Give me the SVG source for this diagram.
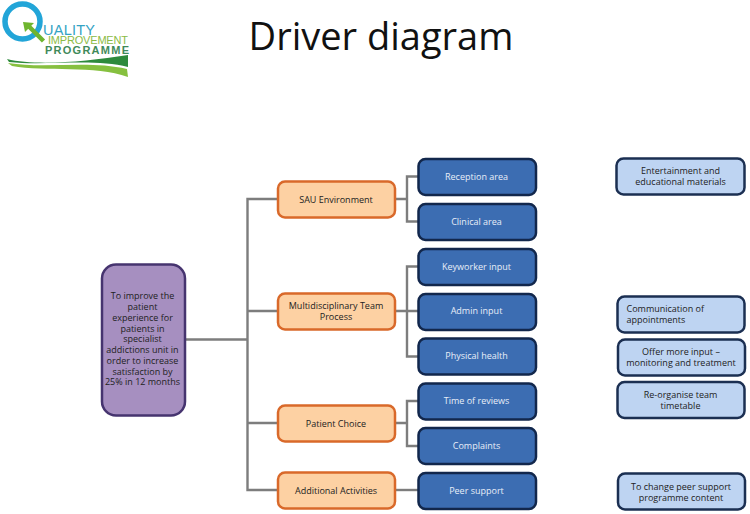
<svg xmlns="http://www.w3.org/2000/svg" width="750" height="514" viewBox="0 0 750 514">
<style>
text{font-family:"Open Sans","Liberation Sans",sans-serif;font-size:9px;text-anchor:middle;fill:#222}
.n{stroke-width:2.5}
.o{fill:#fdd1a3;stroke:#d9692a}
.b{fill:#3c6db2;stroke:#12274c}
.l{fill:#bed4f2;stroke:#1b2f52}
.p{fill:#a68fc0;stroke:#46346f}
.b+text,.w{fill:#e8eef8}
.c{fill:none;stroke:#7d7d7d;stroke-width:2.4}
.lg{font-family:"Liberation Sans",sans-serif;text-anchor:start}
</style>
<rect width="750" height="514" fill="#fff"/>
<g id="logo">
<circle cx="22.500" cy="21.500" r="17.500" fill="none" stroke="#22a5d8" stroke-width="5.500"/>
<path d="M43.500 41 L28 25.500" stroke="#6fb52f" stroke-width="4.500" fill="none"/>
<path d="M23 22 L34 23 L25 32 Z" fill="#6fb52f"/>
<text class="lg" x="43" y="35" style="font-size:14.500px;fill:#34a3c4" textLength="52">UALITY</text>
<text class="lg" x="48" y="43" style="font-size:11px;fill:#8cbb45" textLength="80" dy="1">IMPROVEMENT</text>
<text class="lg" x="45" y="53" style="font-size:11px;fill:#3f8a5a;font-weight:bold" textLength="84" dy="1">PROGRAMME</text>
<path d="M7 59 C35 66 85 62 128 55 L128 67 C95 58 45 66 9 62 Z" fill="#2d8a3c"/>
<path d="M8 63 C45 69 90 60 127 69 L128 77 C95 65 45 72 12 66 Z" fill="#86c03f"/>
</g>
<text id="title" x="381" y="50" style="font-size:38px;fill:#111;font-family:'Open Sans','Liberation Sans',sans-serif">Driver diagram</text>
<g id="connectors">
<path class="c" d="M178 339.500H247.500M277 199H247.500V490H277M247.500 311H277M247.500 423H277"/>
<path class="c" d="M395 199H407M418 176.500H407V221.500H418"/>
<path class="c" d="M395 311H418M418 266.500H407V356.500H418"/>
<path class="c" d="M395 423H407M418 401H407V446H418"/>
<path class="c" d="M395 490H418"/>
</g>
<g id="goal"><rect class="n p" x="102" y="264.500" width="83" height="151" rx="14"/>
<text x="142.500" y="299">To improve the</text><text x="142.500" y="310">patient</text><text x="142.500" y="320.500">experience for</text><text x="142.500" y="331.500">patients in</text><text x="142.500" y="342">specialist</text><text x="142.500" y="353">addictions unit in</text><text x="142.500" y="363.500">order to increase</text><text x="142.500" y="374.500">satisfaction by</text><text x="142.500" y="385">25% in 12 months</text></g>
<g id="sau"><rect class="n o" x="278" y="181.500" width="117" height="36" rx="7"/><text x="336" y="202.500">SAU Environment</text></g>
<g id="mdt"><rect class="n o" x="278" y="293.500" width="117" height="36" rx="7"/><text x="336" y="308.500">Multidisciplinary Team</text><text x="336" y="319.500">Process</text></g>
<g id="choice"><rect class="n o" x="278" y="405.500" width="117" height="36" rx="7"/><text x="336" y="426.500">Patient Choice</text></g>
<g id="activities"><rect class="n o" x="278" y="472.500" width="117" height="36" rx="7"/><text x="336" y="493.500">Additional Activities</text></g>
<g id="reception"><rect class="n b" x="418.500" y="159" width="117.500" height="36" rx="7"/><text class="w" x="476.500" y="180">Reception area</text></g>
<g id="clinical"><rect class="n b" x="418.500" y="204" width="117.500" height="36" rx="7"/><text class="w" x="476.500" y="225">Clinical area</text></g>
<g id="keyworker"><rect class="n b" x="418.500" y="249" width="117.500" height="36" rx="7"/><text class="w" x="476.500" y="269.500">Keyworker input</text></g>
<g id="admin"><rect class="n b" x="418.500" y="294" width="117.500" height="36" rx="7"/><text class="w" x="476.500" y="314">Admin input</text></g>
<g id="physical"><rect class="n b" x="418.500" y="338.500" width="117.500" height="36" rx="7"/><text class="w" x="476.500" y="359">Physical health</text></g>
<g id="reviews"><rect class="n b" x="418.500" y="383.500" width="117.500" height="36" rx="7"/><text class="w" x="476.500" y="404">Time of reviews</text></g>
<g id="complaints"><rect class="n b" x="418.500" y="428" width="117.500" height="36" rx="7"/><text class="w" x="476.500" y="449">Complaints</text></g>
<g id="peer"><rect class="n b" x="418.500" y="473" width="117.500" height="36" rx="7"/><text class="w" x="476.500" y="493.500">Peer support</text></g>
<g id="entertainment"><rect class="n l" x="616.500" y="158.500" width="128" height="36" rx="7"/><text x="680.500" y="174">Entertainment and</text><text x="680.500" y="185">educational materials</text></g>
<g id="communication"><rect class="n l" x="617.500" y="296.500" width="127" height="36" rx="7"/><text x="626.500" y="311.500" style="text-anchor:start">Communication of</text><text x="626.500" y="323" style="text-anchor:start">appointments</text></g>
<g id="offer"><rect class="n l" x="618" y="339.500" width="127" height="36" rx="7"/><text x="681" y="355">Offer more input –</text><text x="681" y="366">monitoring and treatment</text></g>
<g id="reorganise"><rect class="n l" x="617.500" y="382" width="127" height="36" rx="7"/><text x="680.500" y="398">Re-organise team</text><text x="680.500" y="409">timetable</text></g>
<g id="change"><rect class="n l" x="618" y="473.500" width="127" height="36" rx="7"/><text x="681" y="489.500">To change peer support</text><text x="681" y="500.500">programme content</text></g>
</svg>
